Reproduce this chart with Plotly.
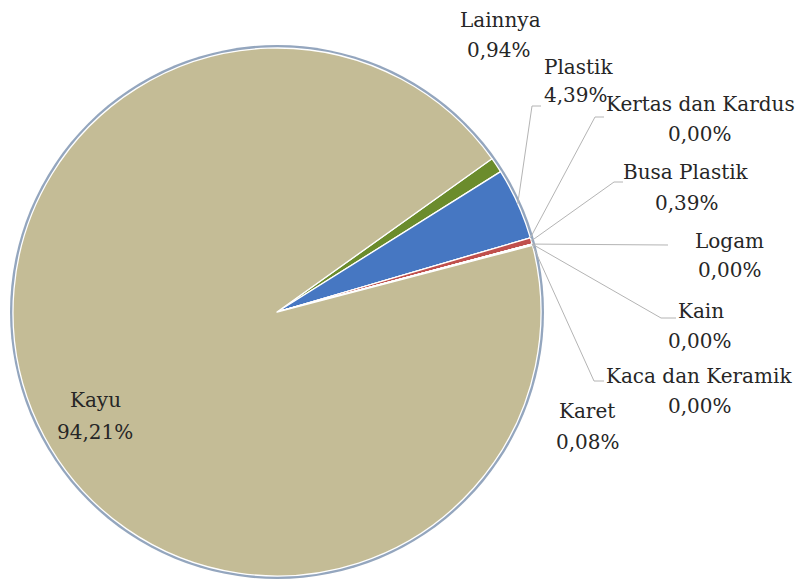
import math
import plotly.graph_objects as go

# ---- data ----
categories = ["Lainnya", "Plastik", "Kertas dan Kardus", "Busa Plastik", "Logam",
              "Kain", "Kaca dan Keramik", "Karet", "Kayu"]
values = [0.94, 4.39, 0.00, 0.39, 0.00, 0.00, 0.00, 0.08, 94.21]
value_labels = ["0,94%", "4,39%", "0,00%", "0,39%", "0,00%", "0,00%", "0,00%", "0,08%", "94,21%"]
colors = ["#6B8C2C", "#4677C2", "#9BBB59", "#C0504D", "#8064A2",
          "#4BACC6", "#F79646", "#B0A0C8", "#C4BC96"]

# ---- layout geometry (pixels) ----
W, H = 797, 579
cx, cy, r = 277, 312, 264
rotation = 54.5

def px_x(x):
    return x / W

def px_y(y):
    return 1 - y / H

fig = go.Figure()

# outer bluish ring (drawn as a slightly larger pie underneath)
rr = r + 3
fig.add_trace(go.Pie(
    values=[1], labels=["ring"], marker=dict(colors=["#94A6BE"], line=dict(width=0)),
    textinfo="none", hoverinfo="skip", showlegend=False, sort=False,
    domain=dict(x=[px_x(cx - rr), px_x(cx + rr)], y=[px_y(cy + rr), px_y(cy - rr)]),
))

fig.add_trace(go.Pie(
    labels=categories, values=values, sort=False, direction="clockwise",
    rotation=rotation, textinfo="none", showlegend=False,
    marker=dict(colors=colors, line=dict(color="white", width=1.3)),
    domain=dict(x=[px_x(cx - r), px_x(cx + r)], y=[px_y(cy + r), px_y(cy - r)]),
))

# ---- labels ----
font = dict(family="DejaVu Serif", size=20, color="#262626")
label_pos = {
    "Lainnya": ((500, 20), (499, 50)),
    "Plastik": ((578, 67), (576, 95)),
    "Kertas dan Kardus": ((700, 104), (700, 134)),
    "Busa Plastik": ((686, 172), (687, 203)),
    "Logam": ((729, 241), (730, 270)),
    "Kain": ((701, 311), (700, 341)),
    "Kaca dan Keramik": ((699, 376), (700, 406)),
    "Karet": ((587, 411), (588, 442)),
    "Kayu": ((95, 400), (95, 432)),
}
for cat, vl in zip(categories, value_labels):
    (nx, ny), (vx, vy) = label_pos[cat]
    fig.add_annotation(x=px_x(nx), y=px_y(ny), xref="paper", yref="paper", text=cat,
                       showarrow=False, font=font, xanchor="center", yanchor="middle")
    fig.add_annotation(x=px_x(vx), y=px_y(vy), xref="paper", yref="paper", text=vl,
                       showarrow=False, font=font, xanchor="center", yanchor="middle")

# ---- leader lines (start on the pie edge at each slice's mid angle) ----
total = sum(values)
theta0 = 90 - rotation
cum = 0.0
mid_angle = {}
for cat, v in zip(categories, values):
    mid_angle[cat] = theta0 - 360 * (cum + v / 2) / total
    cum += v

leaders = {
    "Plastik": [(532, 106), (541, 106)],
    "Kertas dan Kardus": [(595, 117), (604, 117)],
    "Busa Plastik": [(614, 182), (623, 182)],
    "Logam": [(668, 245)],
    "Kain": [(661, 318), (676, 318)],
    "Kaca dan Keramik": [(594, 381), (604, 381)],
}
line_style = dict(color="#B4B4B4", width=1)
for cat, pts in leaders.items():
    a = math.radians(mid_angle[cat])
    start = (cx + r * math.cos(a), cy - r * math.sin(a))
    seq = [start] + pts
    for (x0, y0), (x1, y1) in zip(seq[:-1], seq[1:]):
        fig.add_shape(type="line", xref="paper", yref="paper",
                      x0=px_x(x0), y0=px_y(y0), x1=px_x(x1), y1=px_y(y1),
                      line=line_style, layer="above")

fig.update_layout(
    width=W, height=H, margin=dict(l=0, r=0, t=0, b=0),
    paper_bgcolor="white", plot_bgcolor="white", showlegend=False,
)

fig.write_html(
    "out.html",
    config={"displayModeBar": False},
    post_script="document.body.style.margin='0';document.body.style.overflow='hidden';",
)
